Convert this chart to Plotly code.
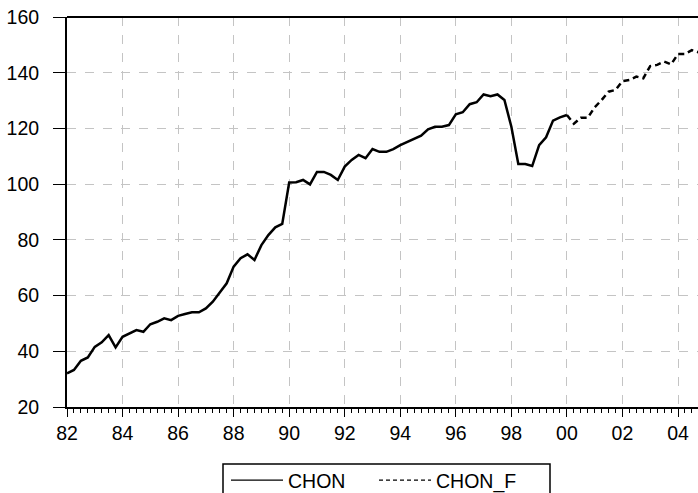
import plotly.graph_objects as go

# CHON: quarterly, 1982Q1 .. 2000Q1
chon_start = 1982
chon = [32.1, 33.3, 36.6, 37.8,
        41.6, 43.2, 45.8, 41.4,
        45.2, 46.4, 47.6, 47.0,
        49.7, 50.6, 51.8, 51.2,
        52.7, 53.4, 54.0, 54.0,
        55.4, 57.8, 61.0, 64.4,
        70.4, 73.4, 74.8, 72.8,
        78.1, 81.7, 84.5, 85.7,
        100.6, 100.7, 101.5, 99.9,
        104.4, 104.4, 103.3, 101.5,
        106.3, 108.7, 110.5, 109.3,
        112.6, 111.6, 111.6, 112.6,
        114.0, 115.2, 116.4, 117.4,
        119.7, 120.6, 120.6, 121.2,
        125.1, 125.8, 128.7, 129.4,
        132.2, 131.6, 132.2, 130.2,
        120.6, 107.2, 107.2, 106.5,
        114.0, 116.8, 122.8, 124.0,
        124.8]

# CHON_F: quarterly, 2000Q1 .. 2004Q4
chon_f_start = 2000
chon_f = [124.8, 121.7, 123.8, 123.8,
          127.6, 130.2, 133.2, 133.8,
          137.0, 137.4, 138.6, 138.0,
          142.4, 142.8, 144.0, 143.0,
          146.7, 146.7, 148.1, 147.3]

tick_years = list(range(1982, 2005, 2))
tick_labels = ["82", "84", "86", "88", "90", "92", "94", "96", "98", "00", "02", "04"]
y_ticks = [20, 40, 60, 80, 100, 120, 140, 160]

x_chon = [chon_start + i / 4 for i in range(len(chon))]
x_chon_f = [chon_f_start + i / 4 for i in range(len(chon_f))]

FONT = "Liberation Sans, Arial, sans-serif"
GRID = "#c4c4c4"
DASH = "6px,4px"

# plot-area geometry (pixels) used to place the key in paper coordinates
PL, PW, PT, PH = 67, 631, 17, 390


def px_x(p):
    return (p - PL) / PW


def px_y(p):
    return 1 - (p - PT) / PH


fig = go.Figure()
fig.add_trace(go.Scatter(x=x_chon, y=chon, mode="lines", name="CHON",
                         showlegend=False, line=dict(color="black", width=2.5)))
fig.add_trace(go.Scatter(x=x_chon_f, y=chon_f, mode="lines", name="CHON_F",
                         showlegend=False, line=dict(color="black", width=2.5, dash=DASH)))
# legend entries (thin samples, as in the reference key)
fig.add_trace(go.Scatter(x=[None], y=[None], mode="lines", name="CHON",
                         line=dict(color="black", width=1.2)))
fig.add_trace(go.Scatter(x=[None], y=[None], mode="lines", name="CHON_F",
                         line=dict(color="black", width=1.2, dash="4px,3px")))

fig.update_layout(
    width=698, height=493,
    margin=dict(l=PL, r=0, t=PT, b=86, autoexpand=False),
    paper_bgcolor="white", plot_bgcolor="white",
    font=dict(family=FONT, size=19.5, color="black"),
    showlegend=True,
    legend=dict(orientation="h", x=px_x(226), xanchor="left",
                y=px_y(461), yanchor="top",
                borderwidth=0, bgcolor="rgba(0,0,0,0)",
                font=dict(size=19.5), itemwidth=52, entrywidth=81, tracegroupgap=0),
    xaxis=dict(range=[1982, 2004.72], tickmode="array", tickvals=tick_years,
               ticktext=tick_labels, ticks="outside", ticklen=8, tickwidth=1,
               tickcolor="black", showline=True, linecolor="black", linewidth=2,
               showgrid=True, gridcolor=GRID, griddash="dash", gridwidth=1,
               zeroline=False, ticklabelstandoff=0,
               minor=dict(dtick=0.25, tick0=1982, ticks="outside", ticklen=4,
                          tickcolor="black", tickwidth=1, showgrid=False)),
    yaxis=dict(range=[20, 160], tickmode="array", tickvals=y_ticks,
               ticks="outside", ticklen=12, tickwidth=1, tickcolor="black",
               showline=True, linecolor="black", linewidth=2,
               showgrid=True, gridcolor=GRID, griddash="dash", gridwidth=1,
               zeroline=False, ticklabelstandoff=10),
    shapes=[
        dict(type="line", xref="paper", yref="paper", x0=0, x1=1, y0=1, y1=1,
             line=dict(color="black", width=2)),
        dict(type="rect", xref="paper", yref="paper",
             x0=px_x(223), x1=px_x(550), y0=px_y(464), y1=px_y(520),
             line=dict(color="black", width=1.5), fillcolor="rgba(0,0,0,0)"),
    ],
)

fig.write_html("out.html")
